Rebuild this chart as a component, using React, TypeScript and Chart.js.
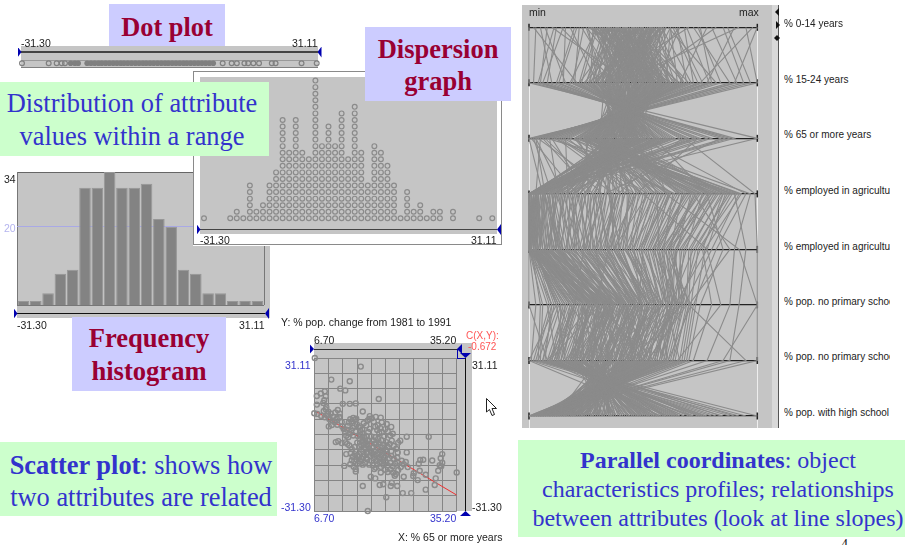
import React, { useEffect, useRef } from "react";
import { Chart, registerables } from "chart.js";

Chart.register(...registerables);

// ---------- data ----------
const rangeTicks = ["-31.30", "31.11"];
const histogramCounts = [1, 1, 3, 8, 9, 30, 30, 34, 30, 30, 31, 22, 20, 9, 8, 3, 3, 1, 1, 1];
const histogramBins = histogramCounts.map((_, i) => `bin ${i + 1}`);
const dispersionCounts = [1, 0, 0, 0, 1, 2, 1, 6, 2, 3, 6, 8, 16, 11, 16, 11, 10, 22, 12, 15, 12, 17, 10, 18, 11, 6, 12, 11, 9, 6, 1, 5, 2, 3, 1, 2, 2, 0, 2, 0, 0, 0, 1, 0, 1];
const dotPlotSparse = [-31.3, -25.65, -23.96, -22.9, -22.2, 11.2, 13.1, 14.2, 15.8, 16.6, 17.7, 18.9, 21.6, 22.4, 27.9, 31.11];
const dotPlotDense = [-21, -20.1, -19.4, -17.5, -16.7, -15.9, -15.1, -14.4, -13.6, -12.8, -12, -11.2, -10.4, -9.7, -8.9, -8.1, -7.3, -6.5, -5.7, -5, -4.2, -3.4, -2.6, -1.8, -1, -0.3, 0.5, 1.3, 2.1, 2.9, 3.6, 4.4, 5.2, 6, 6.8, 7.6, 8.4, 9.2];
const attributes = ["% 0-14 years", "% 15-24 years", "% 65 or more years", "% employed in agriculture", "% employed in agriculture", "% pop. no primary school", "% pop. no primary school", "% pop. with high school"];
const xGrid = [6.7, 9.55, 12.4, 15.25, 18.1, 20.95, 23.8, 26.65, 29.5, 32.35, 35.2];
const yGrid = [-31.3, -25.06, -18.82, -12.58, -6.34, -0.1, 6.15, 12.39, 18.63, 24.87, 31.11];
const regression = [[7.2, 9.1], [35.2, -24.8]];
const scatterPoints = [
  [6.8, 31.1], [16, 27.6], [10.1, 22.3], [13.8, 21.6], [11.9, 18.6], [12.9, 17.9], [8.8, 17.5], [8, 16.6], [7.2, 15.6], [19.6, 14.4], [9, 15.5], [8.7, 13.9], [8.5, 12.8], [7.2, 12.1], [12.4, 12.4], [13.8, 12.4], [15, 12.6],
  [6.7, 8.6], [16.4, 9.3], [7.3, 8.3], [8.1, 7.5], [8.8, 6.9], [9.3, 7.6], [8.6, 9.5], [9, 10.2], [9.5, 9.2], [10, 8.4], [10.5, 7.2], [10.9, 8.9], [11.4, 9.9], [11.8, 8.5], [9.7, 6.2], [10.3, 5.6], [10.8, 4.9], [11.2, 6.3], [11.7, 7.1], [9.6, 3.2], [10.2, 3.8], [11.3, 3.9], [12.2, 5], [9.1, 11], [9.4, 8.3],
  [12.3, 3.2], [12.6, 2.1], [12.9, 0.8], [13.2, 1.9], [13.4, 3.5], [13.6, 4.8], [13.9, 6.1], [14.2, 5.3], [14.5, 6.7], [14.8, 5.9], [15.1, 6.3], [13.1, -0.6], [13.5, -1.2], [13.8, 0.2], [14.1, 1.4], [14.4, 2.6], [14.7, 3.4], [12.2, -3.6], [12.9, -3.3], [13.3, -3.9], [11, -3.2], [11.5, -2.8], [13.7, -4.6], [14.2, -6], [13.1, -8.1], [14.4, -9.2], [14, -7.8], [15.1, -7.1], [14.8, -5.2],
  [15.2, 4.1], [15.6, 2.8], [15.9, 1.5], [16.3, 0.4], [15.4, -0.7], [15.8, -1.9], [16.2, -3.1], [16.6, -4.2], [15.3, -3.4], [15.7, -5.1], [16.1, -6.2], [16.5, -7.1], [16.9, -2.1], [17.2, -0.8], [17.5, 0.9], [17.8, 2.2], [17.1, 3.6], [17.4, 5.6], [17.7, 6.2], [18.2, 6.5], [18.6, 5.1], [18.9, 3.1], [19.3, 1.7], [19.7, 0.5], [18.1, -0.9], [18.4, -2.4], [18.8, -3.7], [17.3, -4.6], [17.6, -5.9], [18, -6.8], [19.2, -5.3], [19.5, -1.8],
  [16.7, -1.2], [16.4, -2.6], [17, -3.4], [17.2, -7.4], [16.8, -8.4], [17.9, -8.9], [18.3, -8.1], [15.6, -9.3], [15.1, -10.2], [14.7, -11], [14.2, -10.6], [13.9, -12.2], [15.4, -12], [15.9, -11.2], [16.4, -12.4], [16.9, -11.6], [17.3, -10.3], [14.6, -13.2], [15, -14.2], [17.7, -12.4], [12.7, -12.9],
  [18.6, -9.9], [19, -8.7], [19.4, -7.6], [19.9, -6.5], [20.3, -5.4], [20.7, -4.3], [21.1, -3.2], [19.2, -10.8], [19.7, -9.7], [20.1, -8.6], [20.5, -7.5], [21, -6.3], [21.4, -5.1], [21.8, -3.9], [22.2, -2.6], [22.6, -4.8], [23.1, -5.9], [23.5, -3.4], [23.9, -2.6], [23.4, -7.4], [22.1, -6.9], [20.7, -0.8], [20.2, 0.9], [19.9, 2.5], [20.9, 2.1], [21.4, 1.2], [21.9, -0.5], [22.4, 0.2], [19.4, 3.7], [20.2, 4.9], [21.2, 4.2], [22.1, 3], [20, 6.8], [19, 7.1], [17.8, 7.4],
  [19.3, -12.2], [19.8, -11.4], [20.3, -10.3], [20.8, -9.4], [21.3, -8.3], [21.7, -9.8], [22.1, -8.8], [22.6, -10], [20, -13.3], [20.5, -12.4], [21, -11.4], [21.4, -12.6], [21.9, -11.6], [22.4, -13], [22.9, -12], [23.3, -11.2], [18.7, -14.2], [20, -15.6], [20.9, -14.5], [21.4, -15.4], [22, -14.4], [22.5, -15.6], [23, -16.2], [22.8, -16.9], [23.5, -14.6], [24, -13.4], [24.6, -12.2],
  [25.2, -1], [29.6, -1], [25.2, -7.4], [32.3, -8.1], [27.9, -10.5], [28.5, -10.4], [30.3, -10.7], [32.3, -11.6], [32.1, -13], [31.5, -14.9], [35.2, -15.6], [29, -16.5], [31, -18], [27.4, -18.7], [30.8, -20.7], [29, -22.6], [26.1, -24], [24.4, -24], [21.1, -25.7], [17.4, -31.3], [16.4, -21.1], [18, -17.3], [18.9, -18], [19.8, -20.7], [20.5, -20.4], [22, -21.1], [22.2, -19.8], [23.3, -21.1], [24.6, -17.3], [15, -15.2], [26.5, -17], [27.8, -14.9], [27.6, -12], [25.4, -13.4], [26.6, -15.9], [32, -9.8], [31.8, -12.6], [23.3, -9.6], [24.2, -10.8], [25, -11.3],
  [16.1, -4.3], [16.8, -5.4], [17.4, -2.6], [17.9, -3.9], [18.5, -5.2], [18.2, -7.3], [17, -5.9], [16.5, -9.2], [17.1, -9.6], [18.8, -6.9], [19.1, -4.2], [19.6, -3.3], [20.1, -2.4], [18.9, -1.2], [16, -0.4], [15, 1.2], [14.5, -0.5], [15.9, 3.2], [16.6, 4.5], [16.3, 1.9], [20.4, -6.6], [21.2, -7.1], [19.5, -8.2], [18.1, -10.8], [20.8, -11.1], [18.4, -12.7], [16.2, -10.1], [15.3, -8.6], [14.8, -8.1], [19, -13.6],
];
const profiles = [
  [45,52,35,88,72,62,58,12],[38,40,46,12,20,38,30,35],[52,61,27,70,55,60,52,18],[33,28,58,3,6,28,18,48],[47,70,15,62,48,55,44,22],[58,35,50,2,3,22,14,62],[41,47,38,30,35,44,38,30],[29,22,66,1,2,18,10,70],[64,76,12,45,38,52,48,20],[36,55,30,80,64,66,60,10],
  [50,43,44,18,25,41,33,33],[43,31,56,5,8,30,25,42],[55,64,22,74,60,63,55,15],[30,18,72,2,1,14,6,82],[61,82,6,28,30,48,40,26],[39,50,36,55,46,52,47,21],[48,38,48,8,14,34,22,40],[35,25,62,1,4,25,16,52],[57,58,28,92,80,68,62,8],[44,45,41,22,26,40,36,32],
  [12,8,80,4,2,10,3,92],[20,12,75,0,1,16,8,76],[72,88,3,15,22,42,32,36],[85,94,2,10,12,35,28,45],[95,100,0,6,15,30,24,50],[3,2,90,0,0,6,5,100],[8,5,84,33,24,20,12,66],[68,72,14,52,42,58,50,17],[25,33,52,60,50,48,42,24],[78,66,20,40,32,50,43,29],
  [16,15,70,16,10,26,20,56],[90,78,10,25,20,38,30,38],[100,90,5,3,5,28,20,44],[0,0,100,0,3,12,0,58],[42,48,39,65,52,57,53,19],[37,42,43,85,70,69,64,5],[49,53,33,38,33,46,40,27],[54,46,40,77,60,64,57,11],[46,37,49,95,82,72,68,3],[40,57,29,48,44,54,49,16],
  [34,30,54,14,18,36,27,37],[51,63,24,58,50,61,54,13],[60,41,45,7,11,32,24,43],[31,49,37,26,28,43,35,28],[56,67,18,83,66,67,61,6],[44,34,52,42,36,47,41,25],[28,27,60,10,13,31,19,47],[53,54,32,68,58,62,56,14],[47,44,42,3,7,26,21,46],[39,60,26,35,40,51,46,23],
  [22,20,68,99,100,100,100,0],[75,80,8,90,95,92,88,2],[66,56,30,97,90,88,78,4],[18,30,55,78,85,75,70,7],[82,48,36,72,88,70,95,1],[10,44,40,85,76,80,72,9],[92,39,47,60,92,100,85,3],[26,62,23,50,78,84,65,5],[35,36,50,0,0,0,8,60],[48,24,64,0,0,3,1,72],
  [5,10,78,1,0,8,12,64],[59,26,60,0,1,5,4,88],[70,32,53,0,0,10,7,78],[14,38,46,2,2,14,13,55],[42,46,40,20,22,37,26,41],[36,51,34,44,41,49,37,34],[50,39,47,6,9,29,17,53],[32,56,31,31,34,45,34,31],[45,59,27,75,58,65,50,20],[53,47,39,16,19,35,23,45],
  [40,35,51,4,5,24,15,59],[57,44,43,24,29,42,31,39],[28,52,34,54,47,53,44,24],[62,65,21,36,37,50,39,33],[33,41,44,66,54,59,51,18],[49,29,57,2,3,20,11,68],[38,55,31,82,68,65,59,9],[46,68,17,46,42,56,45,27],[55,42,42,11,16,33,28,36],[43,33,53,9,12,31,9,74],
  [51,50,35,57,49,55,48,19],[30,23,63,1,2,19,13,61],[41,60,25,87,73,67,63,7],[37,45,41,34,31,47,38,30],[58,71,13,50,45,57,42,28],[47,37,48,13,17,30,26,42],[35,54,32,71,56,62,55,12],[52,40,46,2,4,23,18,51],[44,48,38,41,39,50,46,22],[24,19,69,5,7,21,14,63],
  [63,74,11,64,53,60,52,16],[39,32,55,19,21,39,29,38],[48,57,28,79,62,70,66,4],[34,43,43,27,27,44,33,35],[56,36,50,1,1,17,9,77],[42,53,33,61,51,58,50,15],[31,46,39,38,36,48,41,26],[59,61,25,93,77,73,69,2],[45,35,49,3,6,27,20,49],[50,49,37,29,32,46,37,32],
  [27,58,26,23,24,41,32,37],[65,69,16,17,23,40,34,35],[37,29,59,0,2,15,10,71],[43,64,20,91,74,71,67,6],[54,42,44,56,48,56,47,23],[49,55,30,73,61,64,58,13],[41,38,47,0,1,21,12,57],[33,47,40,43,43,52,43,25],[60,52,34,9,10,33,16,54],[36,26,61,2,5,24,19,50],
  [74,84,4,37,34,49,45,21],[15,6,86,1,3,11,6,80],[87,97,1,21,27,45,35,34],[7,16,74,47,35,29,22,60],[98,75,9,13,8,37,31,40],[21,13,73,3,0,13,4,95],[80,91,3,7,13,36,27,47],[11,4,88,0,1,9,2,85],[69,79,7,32,26,43,38,30],[2,21,67,39,29,34,25,44],
  [28,55,45,2,1,30,42,5],[33,35,40,4,3,33,50,2],[37,48,25,26,24,46,54,3],[41,60,40,0,2,34,38,7],[46,30,45,6,2,28,30,12],[52,42,55,1,0,27,36,9],[57,38,30,40,35,49,60,0],[31,50,28,68,57,60,66,1],[36,53,44,3,4,35,44,6],[44,41,32,55,43,55,58,4],
  [49,47,50,1,3,31,35,14],[54,33,38,47,41,50,33,25],[39,58,43,8,12,40,47,10],[34,44,30,36,30,44,52,11],[29,37,36,62,52,58,48,15],[43,51,22,76,64,63,43,20],[58,40,37,35,38,54,39,28],[47,56,47,4,6,38,28,35],[53,31,48,22,16,37,26,40],[38,46,52,0,1,25,23,30],
  [42,39,34,44,40,52,41,19],[35,52,42,10,15,42,36,24],[60,45,28,59,45,59,31,36],[32,34,42,15,12,34,21,46],[48,59,38,25,19,43,45,8],[55,43,51,3,0,29,37,16],[40,36,33,52,37,53,43,13],[27,49,46,7,9,36,25,32],[45,54,26,69,54,66,49,9],[50,41,36,33,28,47,29,31],
  [37,56,39,18,17,41,53,5],[43,32,47,12,8,32,27,27],[59,50,31,63,59,61,56,2],[30,42,50,1,2,22,20,33],[46,37,29,49,39,51,46,17],[51,57,41,6,5,37,34,18],[35,48,44,28,22,43,40,21],[41,44,27,81,67,64,54,7],[56,34,41,16,11,35,24,42],[33,53,35,37,33,48,30,26],
  [62,60,36,2,1,32,49,4],[25,46,33,53,44,56,61,3],[48,38,53,0,0,24,28,22],[39,45,24,72,63,68,52,10],[44,55,42,11,7,39,33,29],[53,35,35,31,26,45,35,20],[36,40,48,4,2,26,22,38],[50,52,30,42,34,53,42,16],[42,47,45,9,4,33,31,23],[47,42,33,60,49,57,47,6],
  [34,59,34,14,13,42,51,12],[57,49,40,0,1,28,19,52],[31,36,46,24,18,38,25,36],[45,33,31,51,46,49,36,11],[38,54,37,34,29,50,44,14],[52,45,47,5,3,30,32,19],[40,51,29,66,56,64,59,1],[28,40,41,19,20,37,18,48],[55,57,35,29,25,47,39,25],[43,30,50,2,1,23,24,34],
  [66,46,38,7,5,34,27,37],[23,38,44,17,14,36,29,43],[49,62,33,12,9,41,46,9],[35,28,43,39,31,46,34,28],[46,50,26,78,65,61,55,3],[58,37,45,1,2,26,17,55],[41,55,32,46,37,55,40,22],[32,43,37,21,16,40,30,30],[54,48,43,3,1,31,26,41],[37,32,38,30,23,42,23,49],
  [44,49,41,0,1,20,15,57],[30,41,46,2,0,16,12,65],[60,36,49,1,2,13,24,46],[39,27,55,3,2,23,33,17],[52,34,48,0,0,18,35,10],[47,52,39,1,3,27,8,75],[36,44,45,2,1,36,20,53],[55,39,46,0,2,12,16,60],[33,25,57,3,0,19,11,68],[42,58,37,1,1,29,41,6],
  [45,65,28,84,71,70,63,2],[50,58,24,89,75,66,57,5],[38,66,31,76,69,62,60,0],[58,52,26,80,61,69,52,12],[34,47,34,73,59,71,61,1],[41,62,29,67,62,67,45,15],[53,68,22,86,78,64,50,11],[29,54,27,71,65,58,42,18],[47,60,20,56,57,63,48,4],[62,50,25,61,55,61,39,20],
  [31,39,44,6,8,20,9,90],[55,28,50,3,2,18,14,84],[40,22,56,12,9,27,18,72],[48,33,42,0,1,24,21,66],[26,30,48,20,13,30,28,56],
];

// ---------- style ----------
const GRAY = "#c5c5c5";
const MARK = "#8b8b8b";
const BLUE = "#0000b0";
const SANS = "'Liberation Sans', Arial, sans-serif";
const SERIF = "'Liberation Serif', 'Times New Roman', serif";

type Area = { l: number; r: number; t: number; b: number };
type Box = { x: number; y: number; w: number; h: number };

function ChartBox({ box, area, config }: { box: Box; area: Area; config: any }) {
  const ref = useRef<HTMLCanvasElement>(null);
  useEffect(() => {
    const merged = {
      ...config,
      options: {
        responsive: false,
        animation: false,
        devicePixelRatio: 1,
        events: [],
        layout: { padding: { left: area.l - box.x, right: box.x + box.w - area.r, top: area.t - box.y, bottom: box.y + box.h - area.b } },
        plugins: { legend: { display: false }, tooltip: { enabled: false }, title: { display: false } },
        ...config.options,
      },
    };
    const chart = new Chart(ref.current as HTMLCanvasElement, merged);
    return () => chart.destroy();
  }, []);
  return <canvas ref={ref} width={box.w} height={box.h} style={{ position: "absolute", left: box.x, top: box.y, width: box.w, height: box.h }} />;
}

const Rect = ({ x, y, w, h, c }: { x: number; y: number; w: number; h: number; c: string }) => (
  <div style={{ position: "absolute", left: x, top: y, width: w, height: h, background: c }} />
);

const triPaths: Record<string, string> = {
  right: "polygon(0 0, 100% 50%, 0 100%)",
  left: "polygon(100% 0, 0 50%, 100% 100%)",
  down: "polygon(0 0, 100% 0, 50% 100%)",
  up: "polygon(50% 0, 100% 100%, 0 100%)",
};
const Tri = ({ x, y, w, h, dir, c = BLUE }: { x: number; y: number; w: number; h: number; dir: string; c?: string }) => (
  <div style={{ position: "absolute", left: x, top: y, width: w, height: h, background: c, clipPath: triPaths[dir] }} />
);

const Label = ({ x, cy, t, c = "#222", size = 10.5, width }: { x: number; cy: number; t: string; c?: string; size?: number; width?: number }) => (
  <div style={{ position: "absolute", left: x, top: cy - 8, height: 16, lineHeight: "16px", fontFamily: SANS, fontSize: size, color: c, whiteSpace: "nowrap", overflow: width ? "hidden" : "visible", width }}>{t}</div>
);

const Note = ({ x, y, w, h, bg, children, color, bold, size, lh, padL = 0, padT = 0, padR = 0 }: any) => (
  <div style={{ position: "absolute", left: x, top: y, width: w, height: h, boxSizing: "border-box", paddingLeft: padL, paddingTop: padT, paddingRight: padR, background: bg, color, fontWeight: bold ? 700 : 400, fontFamily: SERIF, fontSize: size, lineHeight: `${lh}px`, textAlign: "center", display: "flex", flexDirection: "column", justifyContent: "center", whiteSpace: "nowrap" }}>{children}</div>
);

// one dot per stacked object in a dispersion column
const dispersionDots = dispersionCounts.flatMap((n, col) => Array.from({ length: n }, (_, level) => ({ x: col, y: level })));
const hidden = { display: false };

const dotConfig = {
  type: "scatter",
  data: {
    datasets: [
      { data: dotPlotDense.map((x) => ({ x, y: 0 })), pointRadius: 2.8, pointBorderWidth: 0, pointBackgroundColor: "#7f7f7f", clip: false },
      { data: dotPlotSparse.map((x) => ({ x, y: 0 })), pointRadius: 2.4, pointBorderWidth: 1.2, pointBorderColor: "#808080", pointBackgroundColor: "rgba(0,0,0,0)", clip: false },
    ],
  },
  options: { scales: { x: { ...hidden, type: "linear", min: -31.3, max: 31.11 }, y: { ...hidden, min: -1, max: 1 } } },
};

const dispersionConfig = {
  type: "scatter",
  data: { datasets: [{ data: dispersionDots, pointRadius: 2.4, pointBorderWidth: 1.2, pointBorderColor: MARK, pointBackgroundColor: "rgba(0,0,0,0)", clip: false }] },
  options: { scales: { x: { ...hidden, type: "linear", min: 0, max: 44 }, y: { ...hidden, min: 0, max: 21 } } },
};

const histogramConfig = {
  type: "bar",
  data: { labels: histogramBins, datasets: [{ data: histogramCounts, backgroundColor: "#838383", borderColor: "#979797", borderWidth: 1, barPercentage: 0.94, categoryPercentage: 1 }] },
  options: {
    scales: {
      x: { ...hidden },
      y: {
        min: 0, max: 34,
        afterBuildTicks: (s: any) => { s.ticks = [{ value: 20 }]; },
        ticks: { display: false },
        border: { display: false },
        grid: { color: "#a9a9e6", lineWidth: 1, drawTicks: false },
      },
    },
  },
};

const gridStyle = { ticks: { display: false }, border: { display: false }, grid: { color: "#858585", lineWidth: 1, drawTicks: false } };
const scatterConfig = {
  type: "scatter",
  data: {
    datasets: [
      { data: regression.map(([x, y]) => ({ x, y })), showLine: true, borderColor: "#ee3030", borderWidth: 1, pointRadius: 0, order: 2 },
      { data: scatterPoints.map(([x, y]) => ({ x, y })), pointRadius: 2.5, pointBorderWidth: 1.4, pointBorderColor: MARK, pointBackgroundColor: "rgba(0,0,0,0)", clip: false, order: 1 },
    ],
  },
  options: {
    scales: {
      x: { type: "linear", min: 6.7, max: 35.2, afterBuildTicks: (s: any) => { s.ticks = xGrid.map((value) => ({ value })); }, ...gridStyle },
      y: { type: "linear", min: -31.3, max: 31.11, afterBuildTicks: (s: any) => { s.ticks = yGrid.map((value) => ({ value })); }, ...gridStyle },
    },
  },
};

const parallelConfig = {
  type: "scatter",
  data: {
    datasets: [
      ...profiles.map((row) => ({ data: row.map((x, y) => ({ x, y })), showLine: true, borderColor: MARK, borderWidth: 1.1, pointRadius: 0, clip: false })),
      ...[0, 100].map((x) => ({ data: attributes.map((_, y) => ({ x, y })), pointStyle: "line", pointRotation: 90, pointRadius: 3.5, pointBorderWidth: 1.5, pointBorderColor: "#222", clip: false })),
    ],
  },
  options: {
    scales: {
      x: { ...hidden, type: "linear", min: 0, max: 100 },
      y: {
        type: "linear", min: 0, max: 7, reverse: true,
        afterBuildTicks: (s: any) => { s.ticks = attributes.map((_, value) => ({ value })); },
        ticks: { display: false }, border: { display: false },
        grid: { color: "#222", lineWidth: 1.3, drawTicks: false },
      },
    },
  },
};

const parallelLabelY = [24, 80, 135, 191, 247, 302, 357, 413];

export default function App() {
  return (
    <div style={{ position: "fixed", left: 0, top: 0, width: 905, height: 545, overflow: "hidden", background: "#fff", filter: "blur(0.35px)" }}>
      {/* Dot plot */}
      <Note x={109} y={4} w={116} h={42} bg="#ccccff" color="#990033" bold size={26.4} lh={30} padT={3}>Dot plot</Note>
      <Rect x={21} y={46} w={297} h={14} c={GRAY} />
      <Rect x={21} y={51} w={297} h={2} c="#444" />
      <Rect x={21} y={60} w={297} h={7} c={GRAY} />
      <Rect x={21} y={66.5} w={297} h={1} c="#808080" />
      <Rect x={21} y={60} w={297} h={1} c="#999" />
      <ChartBox box={{ x: 10, y: 54, w: 320, h: 18 }} area={{ l: 22, r: 316.7, t: 60, b: 66.6 }} config={dotConfig} />
      <Tri x={17.5} y={46.5} w={4} h={11} dir="right" />
      <Tri x={317.5} y={46.5} w={4} h={11} dir="left" />
      <Label x={21} cy={43} t={rangeTicks[0]} />
      <Label x={292} cy={43} t={rangeTicks[1]} />

      {/* Frequency histogram */}
      <Rect x={17} y={172} w={253} h={146} c={GRAY} />
      <Rect x={17} y={172} w={247} h={1} c="#666" />
      <Rect x={17} y={172} w={1} h={133} c="#777" />
      <Rect x={263.5} y={172} w={1.2} h={133} c="#777" />
      <ChartBox box={{ x: 10, y: 165, w: 265, h: 145 }} area={{ l: 17.3, r: 263.5, t: 172, b: 305 }} config={histogramConfig} />
      <Rect x={17} y={305} w={247} h={1} c="#777" />
      <Rect x={17} y={313} w={248} h={1} c="#111" />
      <Tri x={13.5} y={308} w={4} h={11} dir="right" />
      <Tri x={265} y={308} w={4} h={11} dir="left" />
      <Label x={4} cy={179} t="34" />
      <Label x={4} cy={228} t="20" c="#b4b4ee" />
      <Label x={17} cy={325} t={rangeTicks[0]} />
      <Label x={239} cy={325} t={rangeTicks[1]} />

      {/* Dispersion graph */}
      <Rect x={193} y={71} w={310} h={175} c="#fff" />
      <div style={{ position: "absolute", left: 193, top: 71, width: 309, height: 174, border: "1px solid #8a8a8a", boxSizing: "border-box" }} />
      <Rect x={200} y={77} w={297} h={157} c={GRAY} />
      <Rect x={200} y={228.5} w={297} h={1.6} c="#444" />
      <ChartBox box={{ x: 195, y: 74, w: 305, h: 152 }} area={{ l: 204, r: 492.3, t: 80.6, b: 218.3 }} config={dispersionConfig} />
      <Tri x={196.5} y={224} w={4} h={11} dir="right" />
      <Tri x={497} y={224} w={4} h={11} dir="left" />
      <Label x={200} cy={240} t={rangeTicks[0]} />
      <Label x={471} cy={240} t={rangeTicks[1]} />

      <Note x={365} y={27} w={146} h={74} bg="#ccccff" color="#990033" bold size={26.5} lh={32} padT={2}><span>Dispersion</span><span>graph</span></Note>
      <Note x={0} y={82} w={269} h={74} bg="#ccffcc" color="#3333cc" size={26.4} lh={33} padT={1} padR={5}><span>Distribution of attribute</span><span>values within a range</span></Note>
      <Note x={72} y={317} w={154} h={74} bg="#ccccff" color="#990033" bold size={26.6} lh={33} padT={1}><span>Frequency</span><span>histogram</span></Note>

      {/* Scatter plot */}
      <Label x={281} cy={322} t="Y: % pop. change from 1981 to 1991" />
      <Rect x={314} y={343} w={158} h={168} c={GRAY} />
      <Rect x={314} y={348.5} w={143} h={1.3} c="#333" />
      <ChartBox box={{ x: 305, y: 352, w: 160, h: 165 }} area={{ l: 314.3, r: 456.7, t: 358, b: 511 }} config={scatterConfig} />
      <Rect x={465} y={358} w={1.3} h={153} c="#111" />
      <Rect x={457} y={357.5} w={8} h={1} c={BLUE} />
      <Rect x={457} y={349} w={1} h={9} c={BLUE} />
      <Tri x={309.5} y={344} w={4.5} h={10} dir="right" />
      <Tri x={457} y={344} w={5} h={10} dir="left" />
      <Tri x={460} y={353} w={11} h={5} dir="down" />
      <Tri x={460} y={511} w={11} h={5} dir="up" />
      <Label x={314} cy={340} t="6.70" />
      <Label x={430} cy={340} t="35.20" />
      <Label x={466} cy={336} t="C(X,Y):" c="#ff5555" size={10} />
      <Label x={468} cy={347} t="-0.672" c="#ff5555" size={10} />
      <Label x={285} cy={365} t="31.11" c="#3333cc" />
      <Label x={472} cy={365} t="31.11" />
      <Label x={281} cy={507} t="-31.30" c="#3333cc" />
      <Label x={472} cy={507} t="-31.30" />
      <Label x={314} cy={518} t="6.70" c="#3333cc" />
      <Label x={430} cy={518} t="35.20" c="#3333cc" />
      <Label x={398} cy={537} t="X: % 65 or more years" />
      <svg style={{ position: "absolute", left: 485, top: 397, width: 14, height: 22 }} viewBox="0 0 14 22">
        <path d="M1.5 1.5 L1.5 15 L4.5 12.5 L7 18.5 L9.5 17.5 L7 11.5 L11.5 11.5 Z" fill="#fff" stroke="#222" strokeWidth="1" />
      </svg>

      {/* Parallel coordinates */}
      <Rect x={522} y={5} w={250} h={423} c={GRAY} />
      <Rect x={528.5} y={27} w={1.2} h={401} c="#eee" />
      <Rect x={757} y={27} w={1.2} h={401} c="#eee" />
      <Rect x={772} y={5} w={6} h={423} c="#d8d8d8" />
      <Rect x={778} y={5} w={1.4} h={423} c="#555" />
      <ChartBox box={{ x: 515, y: 18, w: 257, h: 408 }} area={{ l: 529, r: 757.3, t: 27.3, b: 416 }} config={parallelConfig} />
      <Tri x={775} y={8} w={4} h={8} dir="left" c="#111" />
      <Tri x={776} y={21} w={4} h={8} dir="right" c="#111" />
      <Tri x={774} y={35} w={3} h={6} dir="left" c="#111" />
      <Tri x={777} y={35} w={3} h={6} dir="right" c="#111" />
      <Label x={529} cy={12} t="min" />
      <Label x={739} cy={12} t="max" />
      {attributes.map((a, i) => (
        <Label key={i} x={784} cy={parallelLabelY[i]} t={a} width={106} size={10} />
      ))}

      {/* Notes */}
      <Note x={0} y={442} w={277} h={74} bg="#ccffcc" color="#3333cc" size={26.4} lh={32} padL={5} padT={4}>
        <span><b>Scatter plot</b>: shows how</span>
        <span>two attributes are related</span>
      </Note>
      <Note x={518} y={440} w={387} h={97} bg="#ccffcc" color="#3333cc" size={24} lh={29} padL={13} padT={2}>
        <span><b>Parallel coordinates</b>: object</span>
        <span>characteristics profiles; relationships</span>
        <span>between attributes (look at line slopes)</span>
      </Note>
      <div style={{ position: "absolute", left: 841, top: 537, fontFamily: SERIF, fontSize: 14, lineHeight: "16px", color: "#222" }}>4</div>
    </div>
  );
}
